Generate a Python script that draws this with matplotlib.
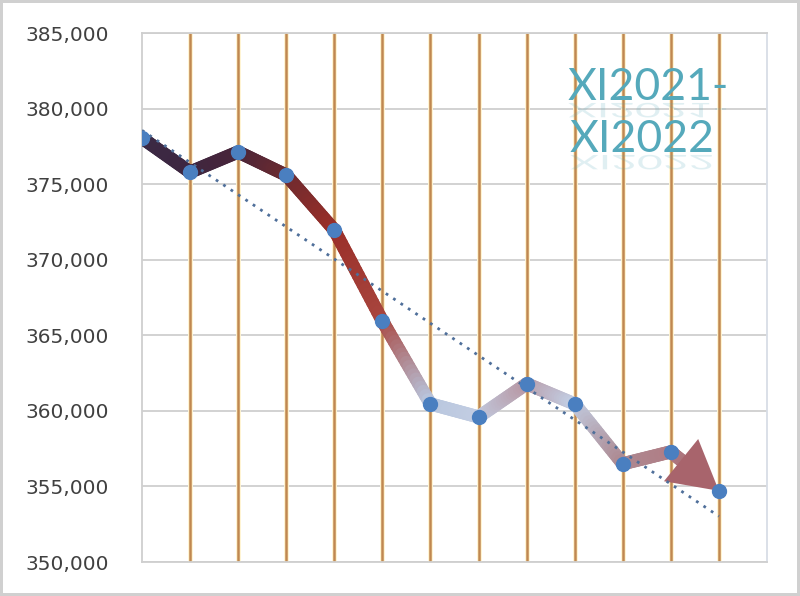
import numpy as np
import matplotlib.pyplot as plt
from matplotlib.collections import LineCollection
from matplotlib.colors import to_rgb
from matplotlib.ticker import FuncFormatter
from matplotlib.textpath import TextPath
from matplotlib.patches import PathPatch
from matplotlib.font_manager import FontProperties
from matplotlib.transforms import Affine2D, IdentityTransform

# =====================================================
# Data (monthly values XI2021 - XI2022)
# =====================================================

months=["XI21","XII21","I22","II22","III22","IV22","V22",
        "VI22","VII22","VIII22","IX22","X22","XI22"]

values=[378050,375800,377130,375600,371970,365950,360460,
        359600,361790,360460,356500,357290,354710]

# colours of the gradient line at each point
node_colors=["#3b2a45","#3d2640","#48253a","#6a2a30","#992e28",
             "#a8453e","#b8c6de","#c2cde2","#b89aa6","#c2cde2",
             "#ad8a92","#b07e86","#a25a62"]

title_lines=["XI2021-","XI2022"]

x=np.arange(len(values))
y=np.array(values,dtype=float)

fig=plt.figure(figsize=(8,5.96),dpi=100)
fig.patch.set_edgecolor("#d0d0d0")
fig.patch.set_linewidth(3)

ax=fig.add_axes([0.1775,0.057,0.78125,0.8876])

ax.set_xlim(0,13)
ax.set_ylim(350000,385000)

# =====================================================
# Grid
# =====================================================

for v in range(350000,385001,5000):
    ax.axhline(v,color="#cfcfcf",linewidth=1.3,zorder=1)

ax.vlines(x[1:],350000,385000,color="#fff4d0",linewidth=3.5,zorder=1)
ax.vlines(x[1:],350000,385000,color="#c08850",linewidth=1.8,zorder=2)

# =====================================================
# Trendline
# =====================================================

k,b=np.polyfit(x,y,1)
ax.plot(x,k*x+b,linestyle=(0,(1,2.2)),color="#4f6f9a",
        linewidth=2.0,zorder=5)

# =====================================================
# Gradient line
# =====================================================

segs=[]
cols=[]
n_sub=20
for i in range(len(x)-1):
    c0=np.array(to_rgb(node_colors[i]))
    c1=np.array(to_rgb(node_colors[i+1]))
    end=1.0 if i<len(x)-2 else 0.5
    for j in range(n_sub):
        t0=end*j/n_sub
        t1=end*(j+1)/n_sub
        xa=x[i]+(x[i+1]-x[i])*t0
        xb=x[i]+(x[i+1]-x[i])*t1
        ya=y[i]+(y[i+1]-y[i])*t0
        yb=y[i]+(y[i+1]-y[i])*t1
        segs.append([(xa,ya),(xb,yb)])
        cols.append(c0+(c1-c0)*(t0+t1)/2)

lc=LineCollection(segs,colors=cols,linewidths=9.5,capstyle="round",
                  joinstyle="round",zorder=4)
ax.add_collection(lc)

ax.annotate(
    "",
    xy=(x[-1],y[-1]),
    xytext=(x[-2]+(x[-1]-x[-2])*0.4,y[-2]+(y[-1]-y[-2])*0.4),
    arrowprops=dict(arrowstyle="simple,head_length=1.3,head_width=1.45,tail_width=0.38",
                    mutation_scale=27,color="#a8646c",linewidth=0,
                    shrinkA=0,shrinkB=0),
    zorder=4
)

ax.plot(x,y,linestyle="none",marker="o",markersize=10,
        color="#4a7fc0",zorder=6)

# =====================================================
# Title text with faint reflection
# =====================================================

fp=FontProperties(family="Lato",size=32)
title_pos=[(8.86,380570),(8.90,377130)]

for txt,(tx,ty) in zip(title_lines,title_pos):

    ax.text(tx,ty,txt,color="#55a9bb",fontproperties=fp,
            ha="left",va="baseline",zorder=7)

    px,py=ax.transData.transform((tx,ty))
    tp=TextPath((0,0),txt,size=32*100/72,prop=fp)
    refl=Affine2D().scale(1,-0.45).translate(px,py-3)
    patch=PathPatch(
        refl.transform_path(tp),
        transform=IdentityTransform(),
        facecolor="#55a9bb",
        edgecolor="none",
        alpha=0.18,
        zorder=7
    )
    ax.add_artist(patch)

# =====================================================
# Axes
# =====================================================

ax.set_yticks(range(350000,385001,5000))
ax.yaxis.set_major_formatter(FuncFormatter(lambda v,p: f"{int(v):,}"))
ax.set_xticks([])
ax.tick_params(axis="y",length=0,pad=24,labelsize=14.5,labelcolor="#404040")

for s in ax.spines.values():
    s.set_color("#cfcfcf")
    s.set_linewidth(1.3)
ax.spines["right"].set_color("#d8dde6")

plt.savefig("out.png",dpi=100)
plt.close()
